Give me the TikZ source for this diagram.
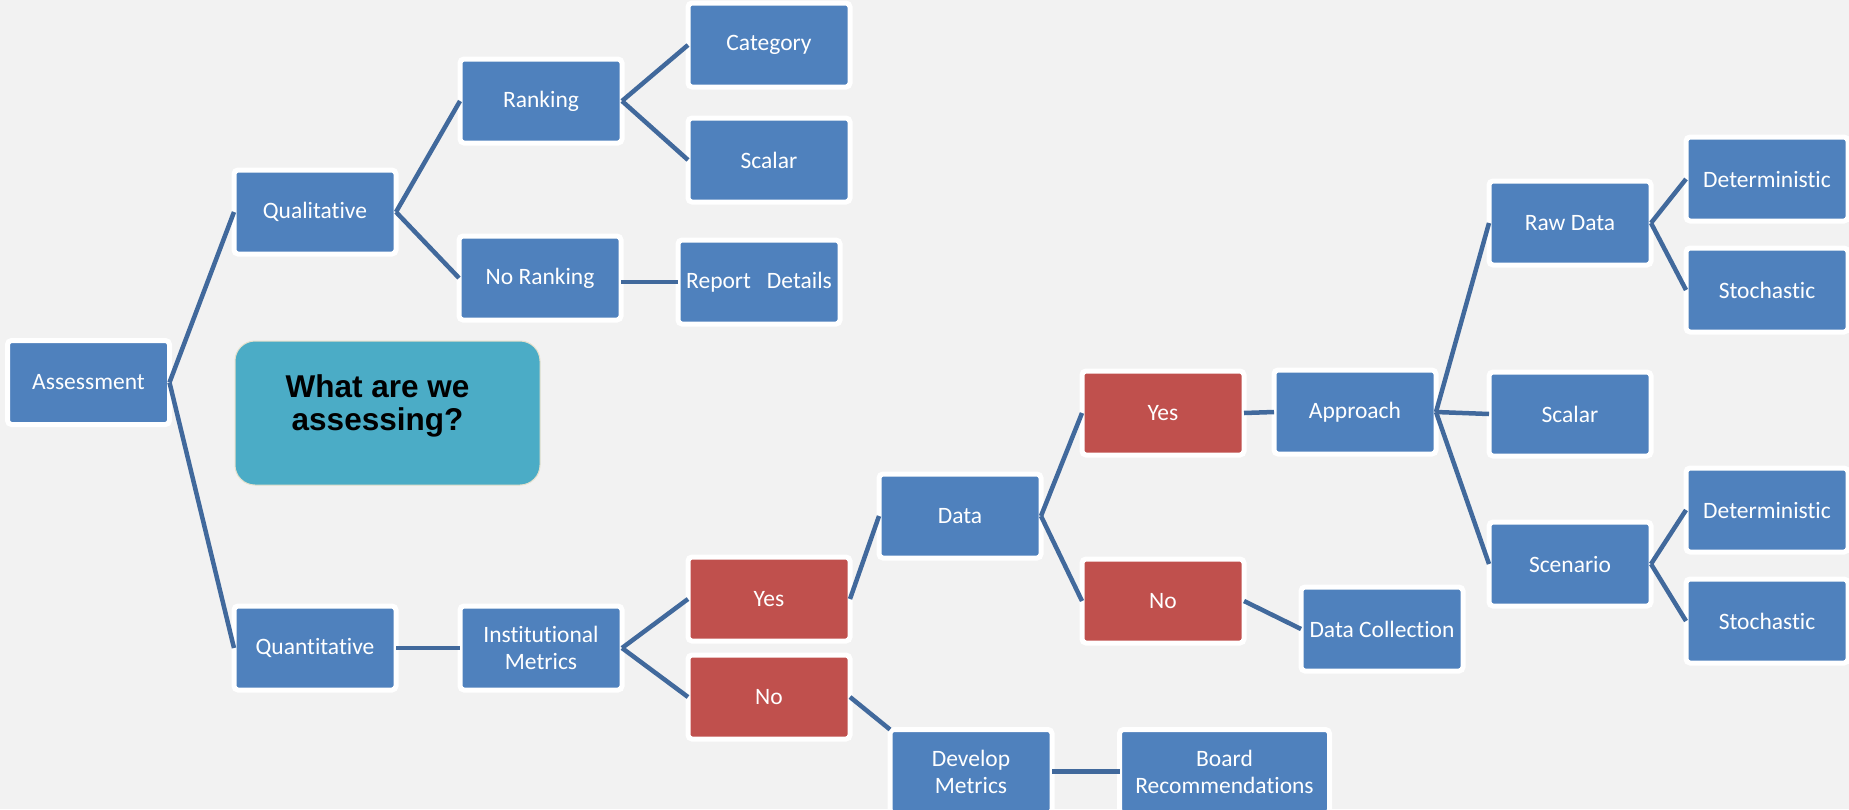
\documentclass[tikz,border=0pt]{standalone}
\usepackage{fontspec}
\setmainfont{Carlito}[Ligatures=NoCommon]
\newfontfamily\askfont{Liberation Sans}
\usepackage{xcolor}
\definecolor{boxblue}{HTML}{4F81BD}
\definecolor{boxred}{HTML}{C0504D}
\definecolor{askteal}{HTML}{4BACC6}
\definecolor{linkblue}{HTML}{41699C}
\definecolor{bggray}{HTML}{F2F2F2}
\definecolor{askedge}{HTML}{E4E0CC}
\tikzset{
  box/.style={draw=white,line width=5pt,fill=boxblue,rounded corners=4pt,
    minimum width=162pt,minimum height=84pt,inner sep=0pt,outer sep=0pt,
    text=white,align=center,font=\fontsize{23.5}{27}\selectfont},
  redbox/.style={box,fill=boxred},
  askbox/.style={draw=askedge,line width=1pt,fill=askteal,rounded corners=20pt,
    minimum width=305pt,minimum height=144pt,inner sep=0pt},
  link/.style={draw=linkblue,line width=4.5pt},
}

\begin{document}
\begin{tikzpicture}[x=1pt,y=-1pt]
\fill[bggray] (0,0) rectangle (1849,809);
\useasboundingbox (0,0) rectangle (1849,809);
\foreach \n/\x/\y/\t in {ass/88.5/382.5/Assessment,qual/315/212/Qualitative,rank/541/101/Ranking,
  cat/769/45/Category,scal/769/160/Scalar,norank/540/278/No Ranking,rep/759/282/{Report\ \ \ Details},
  quant/315/648/Quantitative,inst/541/648/{Institutional\\Metrics},data/960/516/Data,
  appr/1355/412/Approach,coll/1382/629/Data Collection,raw/1570/223/Raw Data,scalr/1570/414/Scalar,
  scen/1570/564/Scenario,detA/1767/179/Deterministic,stoA/1767/290/Stochastic,
  detB/1767/510/Deterministic,stoB/1767/621/Stochastic,dev/971/771.5/{Develop\\Metrics}}
  {\node[box] (\n) at (\x,\y) {\t};}
\node[box,minimum width=210pt] (board) at (1224.5,771.5) {Board\\Recommendations};
\foreach \n/\x/\y/\t in {yesA/769/599/Yes,noA/769/697/No,yesB/1163/413/Yes,noB/1163/601/No}
  {\node[redbox] (\n) at (\x,\y) {\t};}
\node[askbox] (ask) at (387.5,413) {};
\node[font=\askfont\bfseries\fontsize{31.5}{33}\selectfont,align=center] (asktxt)
  at ([xshift=-10pt,yshift=7pt]ask.center) {What are we\\assessing?};
\foreach \a/\b in {ass/qual,ass/quant,qual/rank,qual/norank,rank/cat,rank/scal,
  quant/inst,inst/yesA,inst/noA,yesA/data,data/yesB,data/noB,yesB/appr,noB/coll,
  appr/raw,appr/scalr,appr/scen,raw/detA,raw/stoA,scen/detB,scen/stoB,dev/board}
  {\draw[link] (\a.east)--(\b.west);}
\draw[link] (norank.east |- rep.west)--(rep.west);
\draw[link] (noA.east)--(dev.north west);
\end{tikzpicture}
\end{document}
